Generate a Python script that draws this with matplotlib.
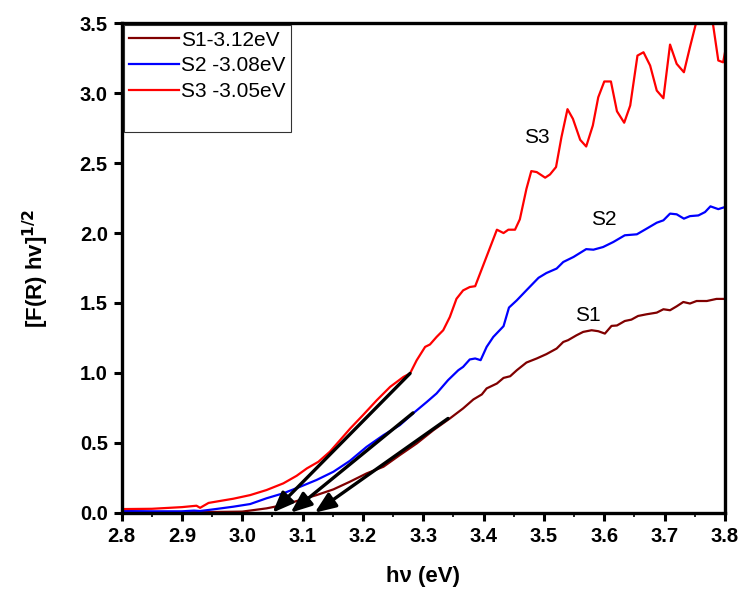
import matplotlib.pyplot as plt
from matplotlib.ticker import MultipleLocator

# Photon energy (eV) and Kubelka-Munk [F(R) hv]^1/2 for each sample
s1_x = [2.80, 2.85, 2.90, 2.93, 2.985, 3.00, 3.04, 3.068, 3.096, 3.123, 3.151, 3.178,
        3.206, 3.234, 3.261, 3.289, 3.317, 3.344, 3.366, 3.383, 3.397, 3.405, 3.422,
        3.433, 3.444, 3.455, 3.471, 3.488, 3.504, 3.521, 3.532, 3.540, 3.554, 3.565,
        3.579, 3.590, 3.601, 3.612, 3.621, 3.634, 3.645, 3.656, 3.670, 3.687, 3.698,
        3.709, 3.720, 3.731, 3.742, 3.753, 3.770, 3.786, 3.800]
s1_y = [0.003, 0.003, 0.003, 0.004, 0.007, 0.008, 0.031, 0.055, 0.091, 0.126, 0.167,
        0.221, 0.281, 0.329, 0.412, 0.495, 0.591, 0.674, 0.746, 0.810, 0.846, 0.889,
        0.924, 0.964, 0.976, 1.019, 1.074, 1.103, 1.134, 1.174, 1.221, 1.234, 1.269,
        1.293, 1.305, 1.298, 1.281, 1.336, 1.339, 1.371, 1.381, 1.407, 1.419, 1.431,
        1.455, 1.448, 1.476, 1.507, 1.496, 1.514, 1.514, 1.529, 1.529]

s2_x = [2.80, 2.85, 2.90, 2.92, 2.93, 2.952, 2.985, 3.013, 3.040, 3.068, 3.096, 3.123,
        3.151, 3.178, 3.206, 3.234, 3.261, 3.283, 3.306, 3.322, 3.341, 3.358, 3.366,
        3.377, 3.386, 3.395, 3.405, 3.416, 3.433, 3.442, 3.455, 3.471, 3.491, 3.504,
        3.521, 3.532, 3.549, 3.570, 3.582, 3.598, 3.615, 3.634, 3.654, 3.670, 3.687,
        3.698, 3.709, 3.720, 3.732, 3.742, 3.756, 3.767, 3.776, 3.789, 3.800]
s2_y = [0.012, 0.010, 0.010, 0.015, 0.012, 0.024, 0.043, 0.062, 0.103, 0.139, 0.186,
        0.234, 0.293, 0.370, 0.471, 0.555, 0.626, 0.710, 0.793, 0.853, 0.948, 1.019,
        1.043, 1.096, 1.103, 1.091, 1.186, 1.257, 1.334, 1.467, 1.519, 1.591, 1.680,
        1.714, 1.746, 1.793, 1.829, 1.885, 1.881, 1.900, 1.936, 1.984, 1.991, 2.031,
        2.074, 2.091, 2.139, 2.134, 2.103, 2.121, 2.126, 2.150, 2.191, 2.171, 2.186]

s3_x = [2.80, 2.85, 2.90, 2.924, 2.93, 2.944, 2.963, 2.985, 3.013, 3.040, 3.068, 3.090,
        3.107, 3.126, 3.145, 3.162, 3.179, 3.200, 3.223, 3.245, 3.267, 3.278, 3.289,
        3.303, 3.311, 3.322, 3.333, 3.344, 3.355, 3.366, 3.377, 3.386, 3.422, 3.433,
        3.441, 3.452, 3.460, 3.471, 3.479, 3.488, 3.502, 3.510, 3.520, 3.529, 3.539,
        3.548, 3.560, 3.570, 3.581, 3.590, 3.600, 3.611, 3.621, 3.633, 3.643, 3.655,
        3.665, 3.676, 3.687, 3.698, 3.709, 3.720, 3.732, 3.742, 3.752, 3.766, 3.780,
        3.789, 3.797, 3.800]
s3_y = [0.026, 0.028, 0.040, 0.050, 0.035, 0.070, 0.084, 0.100, 0.126, 0.162, 0.210,
        0.264, 0.317, 0.364, 0.436, 0.519, 0.603, 0.698, 0.805, 0.900, 0.971, 0.996,
        1.090, 1.186, 1.203, 1.257, 1.305, 1.400, 1.530, 1.590, 1.614, 1.620, 2.024,
        2.000, 2.024, 2.024, 2.098, 2.317, 2.443, 2.436, 2.396, 2.419, 2.472, 2.686,
        2.886, 2.817, 2.667, 2.619, 2.769, 2.971, 3.084, 3.084, 2.871, 2.789, 2.912,
        3.269, 3.293, 3.198, 3.019, 2.964, 3.348, 3.210, 3.150, 3.329, 3.500, 3.620,
        3.500, 3.234, 3.221, 3.290]

labels = ["S1-3.12eV", "S2 -3.08eV", "S3 -3.05eV"]
colors = ["#800000", "#0000ff", "#ff0000"]

# Tauc-style extrapolations: (tail x, tail y) -> band-gap intercept on the energy axis
tail_x = [3.341, 3.283, 3.278]
tail_y = [0.674, 0.714, 0.996]
gap_x = [3.12, 3.08, 3.05]

plt.rcParams["font.family"] = ["Liberation Sans", "DejaVu Sans"]

fig = plt.figure(figsize=(7.42, 5.90), dpi=100)
ax = fig.add_axes([0.164, 0.131, 0.813, 0.8295])

for xs, ys, lab, c in zip([s1_x, s2_x, s3_x], [s1_y, s2_y, s3_y], labels, colors):
    ax.plot(xs, ys, color=c, lw=1.6, label=lab)

for tx, ty, gx in zip(tail_x, tail_y, gap_x):
    ax.annotate("", xy=(gx, 0.0), xytext=(tx, ty),
                arrowprops=dict(arrowstyle="-|>,head_length=0.7,head_width=0.28",
                                color="black", lw=2.4, mutation_scale=18,
                                shrinkA=0, shrinkB=0))

ax.text(3.489, 2.68, "S3", fontsize=15, ha="center", va="center")
ax.text(3.600, 2.10, "S2", fontsize=15, ha="center", va="center")
ax.text(3.573, 1.41, "S1", fontsize=15, ha="center", va="center")

ax.set_xlim(2.8, 3.8)
ax.set_ylim(0, 3.5)
ax.xaxis.set_major_locator(MultipleLocator(0.1))
ax.xaxis.set_minor_locator(MultipleLocator(0.05))
ax.yaxis.set_major_locator(MultipleLocator(0.5))
ax.xaxis.set_major_formatter(plt.FormatStrFormatter("%.1f"))
ax.yaxis.set_major_formatter(plt.FormatStrFormatter("%.1f"))
ax.tick_params(which="major", direction="out", length=6, width=2.2,
               labelsize=14.5, pad=4)
ax.tick_params(which="minor", direction="out", length=3, width=1.2)
for lab in ax.get_xticklabels() + ax.get_yticklabels():
    lab.set_fontweight("bold")
for sp in ax.spines.values():
    sp.set_linewidth(2.4)

ax.set_xlabel("hν (eV)", fontsize=16, fontweight="bold", labelpad=15)
ax.set_ylabel("[F(R) hv]$^{\\mathbf{1/2}}$", fontsize=16, fontweight="bold", labelpad=21)

handles, labs = ax.get_legend_handles_labels()
blank, = ax.plot([], [], color="none")
leg = ax.legend(handles + [blank], labs + [" "], loc="upper left",
                bbox_to_anchor=(0.0, 1.0), fontsize=15, frameon=True,
                fancybox=False, edgecolor="black", borderpad=0.25,
                handlelength=2.4, handletextpad=0.1, labelspacing=0.33,
                borderaxespad=0.1)
leg.get_frame().set_linewidth(0.8)

fig.savefig("out.png", dpi=100)
